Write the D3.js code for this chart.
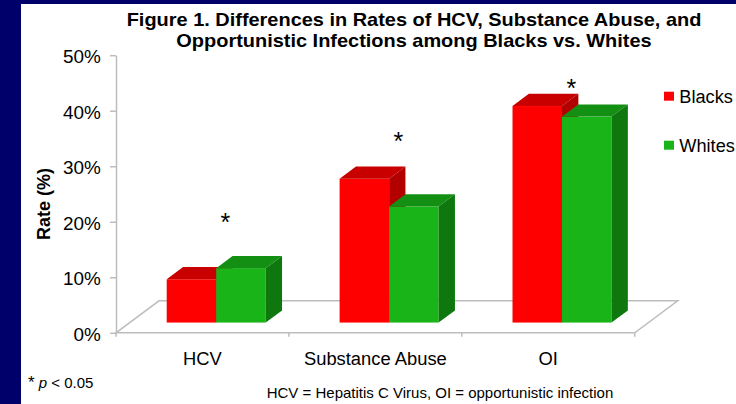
<!DOCTYPE html>
<html>
<head>
<meta charset="utf-8">
<script src="https://cdn.jsdelivr.net/npm/d3@7/dist/d3.min.js"></script>
<style>
  html, body { margin: 0; padding: 0; background: #00006a; }
  svg { display: block; }
  text { font-family: "Liberation Sans", Arial, Helvetica, sans-serif; fill: #000; }
</style>
</head>
<body>
<script>
// Rates (%) by group, with significance markers
const categories = ["HCV", "Substance Abuse", "OI"];
const series = ["Blacks", "Whites"];
const blacks = [7.8, 25.9, 39.0];
const whites = [9.8, 20.9, 37.1];
const yTicks = [0, 10, 20, 30, 40, 50];
const sigLevels = [21.0, 35.6, 45.1];   // height (%) at which the "*" marker sits
const titleLines = [
  "Figure 1. Differences in Rates of HCV, Substance Abuse, and",
  "Opportunistic Infections among Blacks vs. Whites"
];
const footnoteLeft = "p < 0.05";
const footnoteRight = "HCV = Hepatitis C Virus, OI = opportunistic infection";

const values = { Blacks: blacks, Whites: whites };
const colors = {
  Blacks: { front: "#ff0000", top: "#c80000", side: "#b20000" },
  Whites: { front: "#18b418", top: "#139013", side: "#0e780e" }
};

const W = 736, H = 404;
const svg = d3.select("body").append("svg").attr("width", W).attr("height", H);

// navy frame and white slide panel
svg.append("rect").attr("width", W).attr("height", H).attr("fill", "#00006a");
svg.append("rect").attr("x", 21).attr("y", 4).attr("width", W - 21).attr("height", H - 4).attr("fill", "#fff");

const x = d3.scaleBand().domain(categories).range([116, 634.7]);
const y = d3.scaleLinear().domain([0, 50]).range([332.8, 55.2]);
const sub = d3.scaleBand().domain(series).range([-49.5, 49.5]);

// oblique depth of the floor, and where bars sit within it
const depth = { dx: 43, dy: -32 };
const front = 0.32, back = 0.70;
const grid = "#bdbdbd";

// stretched text helper
function label(parent, str, px, py, size, opts = {}) {
  const t = parent.append("text")
    .attr("transform", `translate(${px},${py}) scale(${opts.sx || 1},1)`)
    .attr("font-size", size)
    .attr("text-anchor", opts.anchor || "start")
    .attr("font-weight", opts.weight || "normal")
    .text(str);
  return t;
}

// title
titleLines.forEach((s, i) => label(svg, s, 414, [25.7, 47][i], 19, { sx: 1.05, anchor: "middle", weight: "bold" }));

// floor
const y0 = y(0);
const [xa, xb] = x.range();
svg.append("polygon")
  .attr("points", [[xa, y0], [xb, y0], [xb + depth.dx, y0 + depth.dy], [xa + depth.dx, y0 + depth.dy]].map(p => p.join(",")).join(" "))
  .attr("fill", "#fff").attr("stroke", grid).attr("stroke-width", 1.5).attr("stroke-linejoin", "miter");

// value axis
const yAxis = svg.append("g").attr("transform", `translate(${xa},0)`)
  .call(d3.axisLeft(y).tickValues(yTicks).tickSize(6).tickSizeOuter(0).tickFormat(d => d + "%"));
yAxis.select(".domain").attr("stroke", grid).attr("stroke-width", 1.5);
yAxis.selectAll(".tick line").attr("stroke", grid).attr("stroke-width", 1.5);
yAxis.selectAll(".tick text")
  .attr("font-size", 18).attr("font-family", null).attr("fill", "#000")
  .attr("x", -15.3 / 1.05).attr("dy", 0).attr("y", 7.5)
  .attr("transform", "scale(1.05,1)");

// category ticks at band boundaries
const bounds = categories.map(c => x(c)).concat([xb]);
svg.append("g").selectAll("line").data(bounds).join("line")
  .attr("x1", d => d).attr("x2", d => d).attr("y1", y0).attr("y2", y0 + 4)
  .attr("stroke", grid).attr("stroke-width", 1.5);

// category labels
categories.forEach(c => label(svg, c, x(c) + x.bandwidth() / 2, 365.3, 18, { sx: 1.02, anchor: "middle" }));

// axis title
svg.append("text")
  .attr("transform", "translate(49.5,204) rotate(-90)")
  .attr("text-anchor", "middle").attr("font-size", 18).attr("font-weight", "bold")
  .text("Rate (%)");

// 3D columns
const fdx = depth.dx * front, fdy = depth.dy * front;
const bdx = depth.dx * (back - front), bdy = depth.dy * (back - front);
const bars = svg.append("g");
categories.forEach((c, i) => {
  const cx = x(c) + x.bandwidth() / 2;
  series.forEach(s => {
    const v = values[s][i];
    const x0 = cx + sub(s) + fdx, x1 = x0 + sub.bandwidth();
    const yb = y(0) + fdy, yt = y(v) + fdy;
    const col = colors[s];
    const pts = a => a.map(p => p.join(",")).join(" ");
    bars.append("rect").attr("x", x0).attr("y", yt).attr("width", x1 - x0).attr("height", yb - yt).attr("fill", col.front);
    bars.append("polygon").attr("points", pts([[x0, yt], [x1, yt], [x1 + bdx, yt + bdy], [x0 + bdx, yt + bdy]])).attr("fill", col.top);
    bars.append("polygon").attr("points", pts([[x1, yt], [x1 + bdx, yt + bdy], [x1 + bdx, yb + bdy], [x1, yb]])).attr("fill", col.side);
  });
});

// significance markers
categories.forEach((c, i) => {
  label(svg, "*", x(c) + x.bandwidth() / 2 + 23, y(sigLevels[i]) + 14.7, 25, { anchor: "middle" });
});

// legend
series.forEach((s, i) => {
  const ly = [91.7, 140.7][i];
  svg.append("rect").attr("x", 664).attr("y", ly).attr("width", 10).attr("height", 9).attr("fill", colors[s].front);
  label(svg, s, 679.3, ly + 11.6, 18, { sx: 1.01 });
});

// footnotes
const fn = svg.append("text").attr("x", 28).attr("y", 388).attr("font-size", 15);
fn.append("tspan").attr("font-size", 17).text("*");
fn.append("tspan").text(" ");
fn.append("tspan").attr("font-style", "italic").text(footnoteLeft.slice(0, 1));
fn.append("tspan").text(footnoteLeft.slice(1));
label(svg, footnoteRight, 266.7, 398, 15);
</script>
</body>
</html>
